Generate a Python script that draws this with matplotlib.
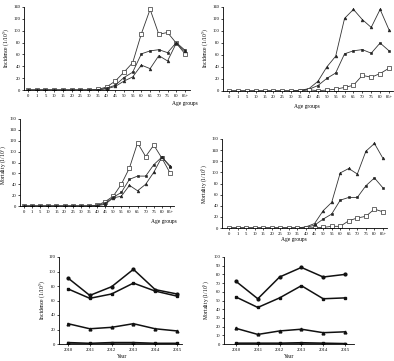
import matplotlib
matplotlib.use("Agg")
from matplotlib import pyplot as plt

W, H = 394, 361

ages = ["0", "1", "5", "10", "15", "20", "25", "30", "35", "40", "45",
        "50", "55", "60", "65", "70", "75", "80", "85+"]
years = ["2010", "2011", "2012", "2013", "2014", "2015"]

# incidence by age group, panel A (top left)
inc_a_open = [0, 0, 0, 0, 0, 0, 0, 0, 1, 5, 15, 30, 46, 95, 136, 94, 97, 79, 61]
inc_a_fill = [0, 0, 0, 0, 0, 0, 0, 0, 0.5, 3, 8, 21, 30, 61, 66, 68, 63, 80, 67]
inc_a_tri = [0, 0, 0, 0, 0, 0, 0, 0, 0, 2, 6, 15, 22, 42, 36, 58, 49, 79, 65]

# incidence by age group, panel B (top right)
inc_b_tri = [0, 0, 0, 0, 0, 0, 0, 0, 1, 4, 16, 40, 58, 121, 136, 119, 106, 136, 102]
inc_b_fill = [0, 0, 0, 0, 0, 0, 0, 0, 1, 3, 9, 21, 30, 62, 67, 69, 63, 80, 67]
inc_b_open = [0, 0, 0, 0, 0, 0, 0, 0, 0, 2, 0.5, 1.5, 3, 6, 9.5, 26, 23, 29, 38]

# mortality by age group, panel C (middle left)
mor_c_open = [0, 0, 0, 0, 0, 0, 0, 0, 0, 1, 8, 18, 40, 70, 116, 91, 112, 88, 61]
mor_c_fill = [0, 0, 0, 0, 0, 0, 0, 0, 0, 1, 5, 16, 25, 49, 55, 55, 76, 90, 72]
mor_c_tri = [0, 0, 0, 0, 0, 0, 0, 0, 0, 0.5, 3, 15, 18, 38, 28, 40, 62, 90, 74]

# mortality by age group, panel D (middle right)
mor_d_tri = [0, 0, 0, 0, 0, 0, 0, 0, 0, 2, 8, 31, 46, 99, 107, 97, 138, 152, 125]
mor_d_fill = [0, 0, 0, 0, 0, 0, 0, 0, 0, 1, 5, 16, 25, 50, 55, 55, 76, 90, 72]
mor_d_open = [0, 0, 0, 0, 0, 0, 0, 0, 0, 0, 0.5, 1, 3, 3, 13, 18, 21, 34, 29]

# incidence by year (bottom left)
inc_y1 = [91, 67, 79, 103, 75, 69]
inc_y2 = [76, 63, 69, 84, 73, 66]
inc_y3 = [28, 21, 23, 28, 21, 18]
inc_y4 = [2, 1, 2, 2, 1, 1]
inc_y5 = [0.5, 0.5, 0.5, 0.5, 0.5, 0.5]

# mortality by year (bottom right)
mor_y1 = [72, 52, 77, 88, 77, 80]
mor_y2 = [54, 42, 53, 67, 52, 53]
mor_y3 = [18, 11, 15, 17, 13, 14]
mor_y4 = [1, 1, 1, 1.5, 1, 0.5]
mor_y5 = [0.3, 0.3, 0.3, 0.3, 0.3, 0.3]

plt.rcParams["font.family"] = ["Liberation Serif", "DejaVu Serif"]
plt.rcParams["mathtext.fontset"] = "stix"

fig = plt.figure(figsize=(W / 100, H / 100), dpi=100)


def make_axes(yaxis_x, first_x, last_x, right_x, top_y, zero_y, n):
    # build an axes from pixel positions
    step = (last_x - first_x) / (n - 1)
    ax = fig.add_axes([yaxis_x / W, 1 - zero_y / H,
                       (right_x - yaxis_x) / W, (zero_y - top_y) / H])
    ax.set_xlim(-(first_x - yaxis_x) / step, n - 1 + (right_x - last_x) / step)
    for s in ["top", "right"]:
        ax.spines[s].set_visible(False)
    for s in ["left", "bottom"]:
        ax.spines[s].set_linewidth(0.6)
    ax.tick_params(labelsize=3.3, length=1.5, width=0.5, pad=1.2)
    return ax


def style(kind):
    if kind == "open":
        return dict(marker="s", mfc="white", mec="#333333", ms=2.5, mew=0.5)
    if kind == "fill":
        return dict(marker="s", mfc="#222222", mec="#222222", ms=2.0, mew=0.4)
    return dict(marker="^", mfc="#222222", mec="#222222", ms=2.0, mew=0.4)


def age_panel(ax, series, ymax, ystep):
    x = range(len(ages))
    for vals, kind in series:
        ax.plot(x, vals, color="#333333", lw=0.6, **style(kind))
    ax.set_ylim(0, ymax)
    ax.set_yticks(range(0, ymax + 1, ystep))
    ax.set_xticks(list(x))
    ax.set_xticklabels(ages)


def label(x, y, s, rot=0):
    fig.text(x / W, 1 - y / H, s, rotation=rot, fontsize=4.0,
             ha="center", va="center")


# top left
ax1 = make_axes(24, 28, 185, 190, 7, 90, len(ages))
age_panel(ax1, [(inc_a_open, "open"), (inc_a_fill, "fill"), (inc_a_tri, "tri")], 140, 20)
label(7, 48, "Incidence (1/10$^5$)", 90)
label(185, 104, "Age groups")

# top right
ax2 = make_axes(223, 229, 389, 393, 7, 91, len(ages))
age_panel(ax2, [(inc_b_tri, "tri"), (inc_b_fill, "fill"), (inc_b_open, "open")], 140, 20)
label(206, 48, "Incidence (1/10$^5$)", 90)
label(307, 106, "Age groups")

# middle left
ax3 = make_axes(20, 24, 170, 174, 119, 206, len(ages))
age_panel(ax3, [(mor_c_open, "open"), (mor_c_fill, "fill"), (mor_c_tri, "tri")], 160, 20)
label(4, 165, "Mortality (1/10$^5$)", 90)
label(164, 221, "Age groups")

# middle right
ax4 = make_axes(222, 229, 383, 387, 139, 228, len(ages))
age_panel(ax4, [(mor_d_tri, "tri"), (mor_d_fill, "fill"), (mor_d_open, "open")], 160, 20)
label(205, 184, "Mortality (1/10$^5$)", 90)
label(294, 239, "Age groups")


def year_panel(ax, series, ymax, ystep):
    x = range(len(years))
    marks = ["o", "s", "^", "s", "s"]
    for vals, m in zip(series, marks):
        ax.plot(x, vals, color="#111111", lw=1.1, marker=m, ms=2.0,
                mfc="#111111", mec="#111111")
    ax.set_ylim(0, ymax)
    ax.set_yticks(range(0, ymax + 1, ystep))
    ax.set_xticks(list(x))
    ax.set_xticklabels(years)


# bottom left
ax5 = make_axes(59, 68, 177, 182, 257, 344, len(years))
year_panel(ax5, [inc_y1, inc_y2, inc_y3, inc_y4, inc_y5], 120, 20)
label(43, 300, "Incidence (1/10$^5$)", 90)
label(122, 357, "Year")

# bottom right
ax6 = make_axes(224, 236, 345, 354, 257, 344, len(years))
year_panel(ax6, [mor_y1, mor_y2, mor_y3, mor_y4, mor_y5], 100, 10)
label(207, 300, "Mortality (1/10$^5$)", 90)
label(289, 357, "Year")

fig.savefig("out.png", dpi=100)
